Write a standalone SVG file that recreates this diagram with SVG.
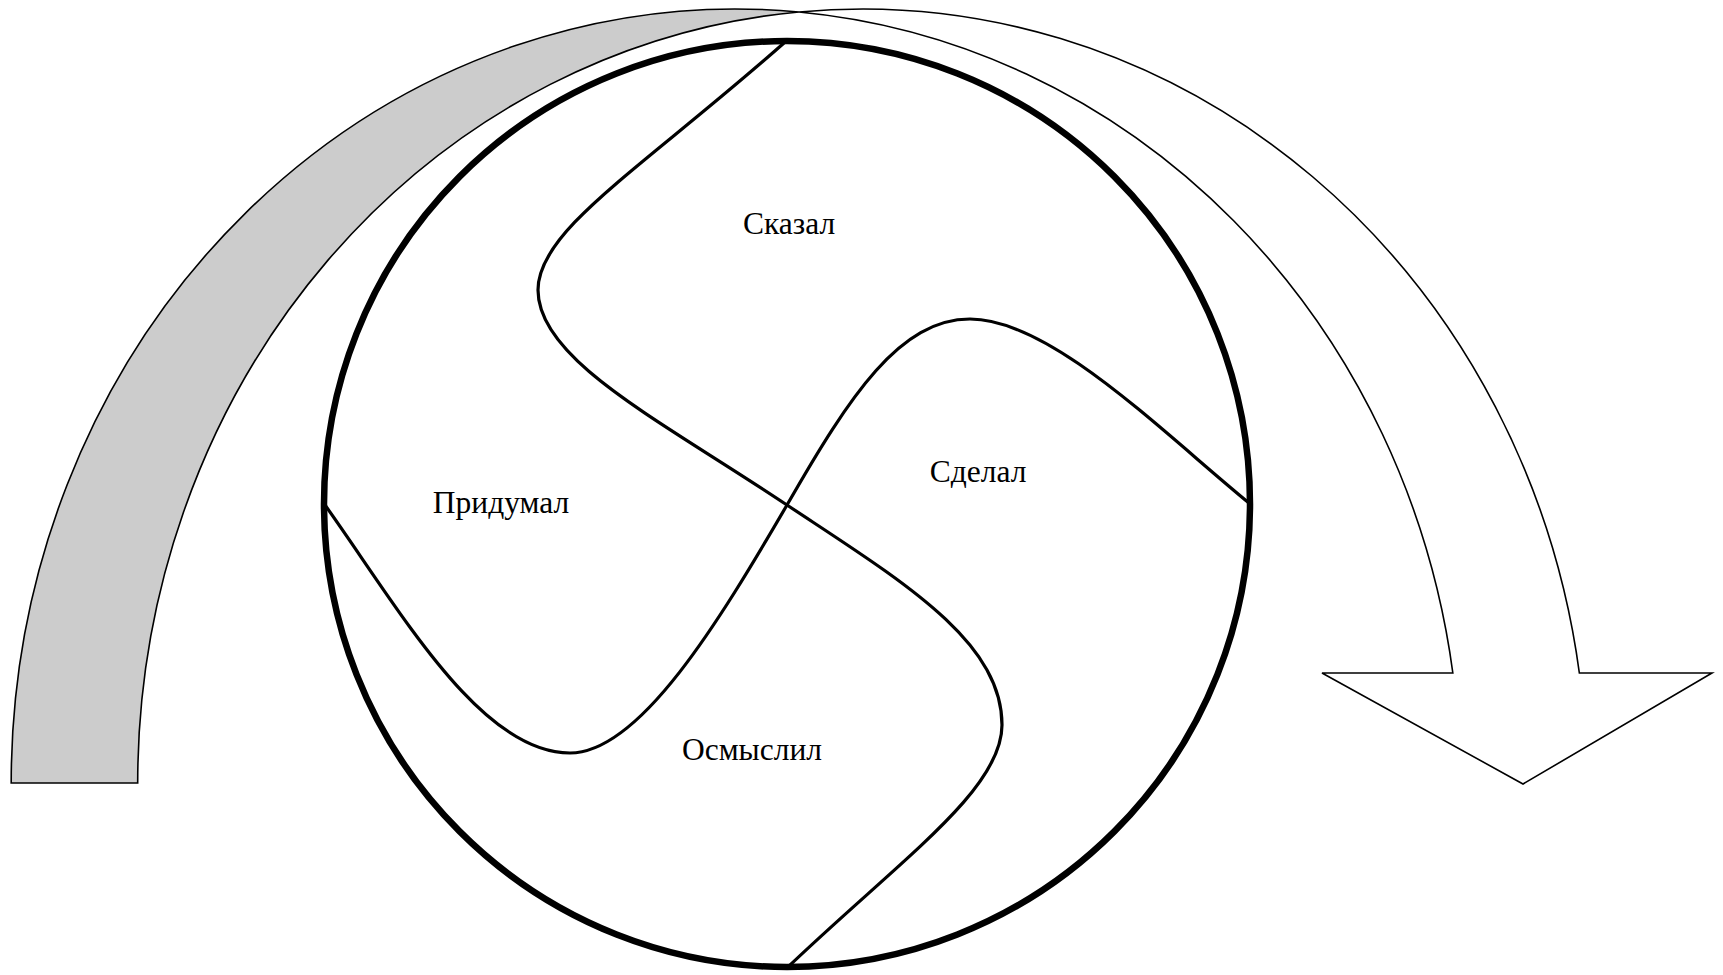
<svg xmlns="http://www.w3.org/2000/svg" width="1723" height="975" viewBox="0 0 1723 975">
<style>
.arrow{stroke:#000;stroke-width:1.6;stroke-linejoin:miter}
.back{fill:#cccccc}
.front{fill:#ffffff}
.ring{fill:#fff;stroke:#000;stroke-width:6.5}
.line{fill:none;stroke:#000;stroke-width:3.2}
.lbl{font-family:"Liberation Serif","Times New Roman",serif;font-size:31.5px;fill:#000;text-anchor:middle}
</style>
<rect width="1723" height="975" fill="#fff"/>
<g id="arrow">
<path class="arrow back" d="M 11.2,783 A 724.5 774 0 0 1 798.95,11.96 A 724.5 774 0 0 0 137.7,783 Z"/>
<path class="arrow front" d="M 798.95,11.96 A 724.5 774 0 0 1 1579.35,673 L 1712,673 L 1523,784 L 1322,673 L 1452.85,673 A 724.5 774 0 0 0 798.95,11.96 Z"/>
</g>
<g id="circle">
<circle class="ring" cx="787" cy="504" r="463"/>
</g>
<g id="connectors">
<path class="line" d="M 784,43 C 640,170 538,230 538,290 C 538,360 660,420 787,505 C 900,580 1002,640 1002,725 C 1002,790 900,860 788,967"/>
<path class="line" d="M 325,505 C 400,610 480,753 570,753 C 640,753 720,620 787,505 C 850,395 900,319 970,319 C 1050,319 1160,430 1249,503"/>
</g>
<g id="n-skazal"><text class="lbl" x="789" y="234">Сказал</text></g>
<g id="n-sdelal"><text class="lbl" x="978" y="482">Сделал</text></g>
<g id="n-pridumal"><text class="lbl" x="501" y="513">Придумал</text></g>
<g id="n-osmyslil"><text class="lbl" x="752" y="760">Осмыслил</text></g>
</svg>
